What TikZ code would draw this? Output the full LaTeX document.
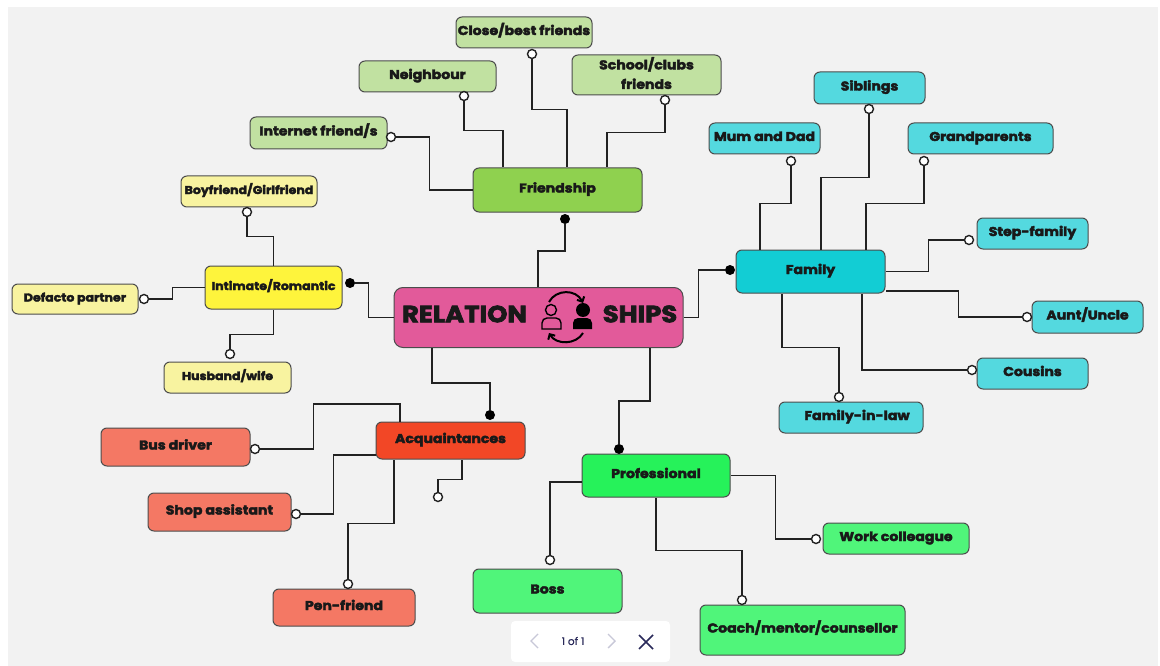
\documentclass[tikz,border=0pt]{standalone}
\usepackage{fontspec}
\setmainfont[FakeStretch=1.1,BoldFeatures={FakeBold=3}]{Poppins}
\newfontfamily\pagerfont[FakeBold=.6]{Poppins}
\usetikzlibrary{arrows.meta}
\definecolor{cmain}{HTML}{E25A9A}
\definecolor{cfri}{HTML}{8FD14F}
\definecolor{cfrilight}{HTML}{C1E1A1}
\definecolor{cint}{HTML}{FEF43C}
\definecolor{cintlight}{HTML}{F8F3A0}
\definecolor{cacq}{HTML}{F24726}
\definecolor{cacqlight}{HTML}{F47864}
\definecolor{cpro}{HTML}{26F25A}
\definecolor{cprolight}{HTML}{50F57A}
\definecolor{cfam}{HTML}{12CDD4}
\definecolor{cfamlight}{HTML}{54D9DF}
\definecolor{cline}{HTML}{222222}
\definecolor{cpage}{HTML}{F2F2F2}
\definecolor{cpager}{HTML}{2A2A5A}
\definecolor{cpagerdim}{HTML}{C8C8D8}
\tikzset{
  box/.style={draw=black!70,rounded corners=6pt,line width=1pt,inner sep=0pt,text=black!90,
    font=\fontsize{12.8}{19.5}\selectfont\bfseries,align=center},
  small/.style={font=\fontsize{11.4}{14}\selectfont\bfseries},
  oneline/.style={text height=10pt,text depth=5pt},
  hollow/.style={circle,draw=cline,fill=white,line width=1.4pt,minimum size=9pt,inner sep=0pt},
  solid dot/.style={circle,fill=black,minimum size=10pt,inner sep=0pt},
  link/.style={draw=cline,line width=1.4pt}
}

\begin{document}
\begin{tikzpicture}[x=1pt,y=-1pt]
  \useasboundingbox (0,0) rectangle (1160,666);
  \fill[white] (0,0) rectangle (1160,666);
  \fill[cpage] (8,7) rectangle (1158,666);

  % hub
  \node[box,fill=cmain,minimum width=289pt,minimum height=60pt,rounded corners=9pt] (Rel) at (538.5,317.5) {};
  \node[text=black!90,font=\fontsize{23.5}{24}\selectfont\bfseries] (RelA) at (464.5,314) {RELATION};
  \node[text=black!90,font=\fontsize{23.5}{24}\selectfont\bfseries] (RelB) at (640,314) {SHIPS};

  \begin{scope}[line width=1.4pt]
    \draw (551,310) circle (5.5);
    \draw (542,329) [rounded corners=5pt] -- (542,318) -- (561,318) [sharp corners] -- (561,329) -- cycle;
    \fill (583,310) circle (7);
    \fill (573,329) [rounded corners=5pt] -- (573,318) -- (592,318) [sharp corners] -- (592,329) -- cycle;
    \draw[line width=2pt,-{Straight Barb[length=4pt,width=8pt]}] (549,302) .. controls (556,289) and (576,289) .. (583,303);
    \draw[line width=2pt,-{Straight Barb[length=4pt,width=8pt]}] (583,333) .. controls (576,345) and (556,345) .. (549,333);
  \end{scope}

  % friendship
  \begin{scope}
    \node[box,oneline,fill=cfri,minimum width=169pt,minimum height=44pt] (Fri) at (557.5,190) {Friendship};
    \node[box,oneline,fill=cfrilight,minimum width=137pt,minimum height=32pt] (Int) at (318.5,133) {Internet friend/s};
    \node[box,oneline,fill=cfrilight,minimum width=137pt,minimum height=31pt] (Nei) at (427.5,76.5) {Neighbour};
    \node[box,oneline,fill=cfrilight,minimum width=136pt,minimum height=31pt] (Clo) at (524,32.5) {Close/best friends};
    \node[box,text depth=4pt,fill=cfrilight,minimum width=149pt,minimum height=40pt] (Sch) at (646.5,75) {School/clubs\\friends};

    \node[solid dot] (dFri) at (565,219) {};
    \node[hollow] (dInt) at (391,137) {};
    \node[hollow] (dNei) at (464,96) {};
    \node[hollow] (dClo) at (532,54) {};
    \node[hollow] (dSch) at (665,100) {};

    \draw[link] ([xshift=-.5pt]Rel.north) -- ++(0,-36) -| (dFri.south);
    \draw[link] (dInt.east) -- ++(33.5,0) |- (Fri.west);
    \draw[link] (dNei.south) -- ++(0,29.5) -| ([xshift=-54.5pt]Fri.north);
    \draw[link] (dClo.south) -- ++(0,50.5) -| ([xshift=9.5pt]Fri.north);
    \draw[link] (dSch.south) -- ++(0,27.5) -| ([xshift=49.5pt]Fri.north);
  \end{scope}

  % intimate
  \begin{scope}
    \node[box,small,oneline,fill=cint,minimum width=137pt,minimum height=43pt] (Inm) at (273.5,287.5) {Intimate/Romantic};
    \node[box,small,oneline,fill=cintlight,minimum width=136pt,minimum height=31pt] (Boy) at (249,191.5) {Boyfriend/Girlfriend};
    \node[box,small,oneline,fill=cintlight,minimum width=126pt,minimum height=30pt] (Def) at (75,299) {Defacto partner};
    \node[box,small,oneline,fill=cintlight,minimum width=127pt,minimum height=31pt] (Hus) at (227.5,377.5) {Husband/wife};

    \node[solid dot] (dInm) at (350,283) {};
    \node[hollow] (dBoy) at (247,212) {};
    \node[hollow] (dDef) at (144,299) {};
    \node[hollow] (dHus) at (230,354) {};

    \draw[link] (Rel.west) -- ++(-25,0) |- (dInm.east);
    \draw[link] (dBoy.south) -- ++(0,19.5) -| (Inm.north);
    \draw[link] (dDef.east) -- ++(23.5,0) |- (Inm.west);
    \draw[link] (dHus.north) -- ++(0,-14.5) -| (Inm.south);
  \end{scope}

  % acquaintances
  \begin{scope}
    \node[box,oneline,fill=cacq,minimum width=149pt,minimum height=37pt] (Acq) at (450.5,440.5) {Acquaintances};
    \node[box,oneline,fill=cacqlight,minimum width=149pt,minimum height=38pt] (Bus) at (175.5,447) {Bus driver};
    \node[box,oneline,fill=cacqlight,minimum width=143pt,minimum height=38pt] (Sho) at (219.5,512) {Shop assistant};
    \node[box,oneline,fill=cacqlight,minimum width=142pt,minimum height=37pt] (Pen) at (344,607.5) {Pen-friend};

    \node[solid dot] (dAcq) at (490,415) {};
    \node[hollow] (dBus) at (255,449) {};
    \node[hollow] (dSho) at (296,514) {};
    \node[hollow] (dPen) at (348,584) {};
    \node[hollow] (dFree) at (438,497) {};

    \draw[link] ([xshift=-106.5pt]Rel.south) -- ++(0,35) -| (dAcq.north);
    \draw[link] (dBus.east) -- ++(53.5,0) -- ++(0,-45) -| ([xshift=-50.5pt]Acq.north);
    \draw[link] (dSho.east) -- ++(32.5,0) |- ([yshift=-14.5pt]Acq.west);
    \draw[link] (dPen.north) -- ++(0,-55.5) -| ([xshift=-56.5pt]Acq.south);
    \draw[link] (dFree.north) -- ++(0,-12.5) -| ([xshift=11.5pt]Acq.south);
  \end{scope}

  % professional
  \begin{scope}
    \node[box,oneline,fill=cpro,minimum width=148pt,minimum height=43pt] (Pro) at (656,475.5) {Professional};
    \node[box,oneline,fill=cprolight,minimum width=149pt,minimum height=44pt] (Bos) at (547.5,591) {Boss};
    \node[box,oneline,fill=cprolight,minimum width=205pt,minimum height=50pt] (Coa) at (802.5,630) {Coach/mentor/counsellor};
    \node[box,oneline,fill=cprolight,minimum width=146pt,minimum height=31pt] (Wor) at (896,538.5) {Work colleague};

    \node[solid dot] (dPro) at (619,449) {};
    \node[hollow] (dBos) at (550,560) {};
    \node[hollow] (dCoa) at (742,600) {};
    \node[hollow] (dWor) at (816,539) {};

    \draw[link] ([xshift=111.5pt]Rel.south) -- ++(0,53) -| (dPro.north);
    \draw[link] (dBos.north) |- ([yshift=-6.5pt]Pro.west);
    \draw[link] (dCoa.north) -- ++(0,-44.5) -| (Pro.south);
    \draw[link] (dWor.west) -- ++(-35.5,0) |- (Pro.east);
  \end{scope}

  % family
  \begin{scope}
    \node[box,oneline,fill=cfam,minimum width=149pt,minimum height=43pt] (Fam) at (810.5,271.5) {Family};
    \node[box,oneline,fill=cfamlight,minimum width=111pt,minimum height=31pt] (Mum) at (764.5,138.5) {Mum and Dad};
    \node[box,oneline,fill=cfamlight,minimum width=111pt,minimum height=32pt] (Sib) at (869.5,88) {Siblings};
    \node[box,oneline,fill=cfamlight,minimum width=145pt,minimum height=31pt] (Gra) at (980.5,138.5) {Grandparents};
    \node[box,oneline,fill=cfamlight,minimum width=111pt,minimum height=31pt] (Ste) at (1032.5,233.5) {Step-family};
    \node[box,oneline,fill=cfamlight,minimum width=111pt,minimum height=32pt] (Aun) at (1087.5,317) {Aunt/Uncle};
    \node[box,oneline,fill=cfamlight,minimum width=111pt,minimum height=31pt] (Cou) at (1032.5,373.5) {Cousins};
    \node[box,oneline,fill=cfamlight,minimum width=144pt,minimum height=31pt] (Law) at (851,417.5) {\hspace{12pt}Family-in-law};

    \node[solid dot] (dFam) at (730,270) {};
    \node[hollow] (dMum) at (791,161) {};
    \node[hollow] (dSib) at (869,109) {};
    \node[hollow] (dGra) at (924,161) {};
    \node[hollow] (dSte) at (969,240) {};
    \node[hollow] (dAun) at (1027,317) {};
    \node[hollow] (dCou) at (972,370) {};
    \node[hollow] (dLaw) at (839,397) {};

    \draw[link] (Rel.east) -- ++(15,0) |- (dFam.west);
    \draw[link] (dMum.south) -- ++(0,37.5) -| ([xshift=-50.5pt]Fam.north);
    \draw[link] (dSib.south) -- ++(0,63.5) -| ([xshift=10.5pt]Fam.north);
    \draw[link] (dGra.south) -- ++(0,37.5) -| ([xshift=55.5pt]Fam.north);
    \draw[link] (dSte.west) -- ++(-35.5,0) |- (Fam.east);
    \draw[link] (dAun.west) -- ++(-63.5,0) |- ([yshift=-19.5pt]Fam.east);
    \draw[link] (dCou.west) -| ([xshift=51.5pt]Fam.south);
    \draw[link] (dLaw.north) -- ++(0,-44.5) -| ([xshift=-28.5pt]Fam.south);
  \end{scope}

  % pager
  \node[fill=white,rounded corners=4pt,minimum width=159pt,minimum height=41pt,inner sep=0pt] (Pager) at (590.5,641.5) {};
  \node[text=cpager,font=\fontsize{10.5}{12}\selectfont\pagerfont] (PagerText) at (573,641) {1 of 1};
  \draw[cpagerdim,line width=1.4pt] (538,634) -- (531,641) -- (538,648);
  \draw[cpagerdim,line width=1.4pt] (608,634) -- (615,641) -- (608,648);
  \draw[cpager,line width=1.6pt] (639,635) -- (653,649) (653,635) -- (639,649);
\end{tikzpicture}
\end{document}
